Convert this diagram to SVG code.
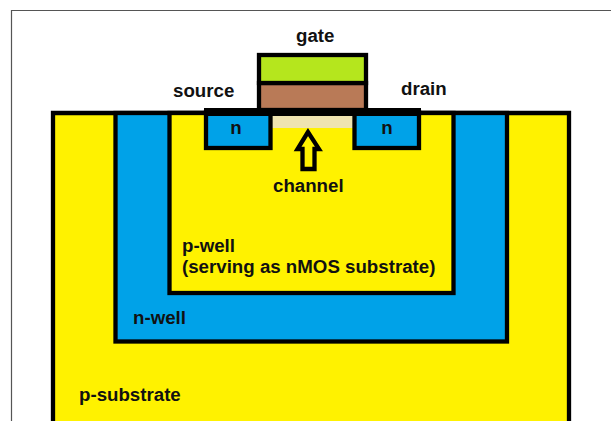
<svg xmlns="http://www.w3.org/2000/svg" width="611" height="421" viewBox="0 0 611 421">
<style>
.s{stroke:#000;stroke-width:4.3;stroke-linejoin:miter}
.y{fill:#fff200}.b{fill:#00a2e8}
text{font-family:"Liberation Sans",Arial,sans-serif;font-weight:700;font-size:18.7px;fill:#111}
</style>
<rect width="611" height="421" fill="#fff"/>
<path d="M611 10.500H11.500V421" fill="none" stroke="#555" stroke-width="1.200"/>
<g id="p-substrate"><path class="s y" d="M53 425V113H569V425"/><text x="79" y="401">p-substrate</text></g>
<g id="n-well"><rect class="s b" x="115.500" y="113" width="391.500" height="228.500"/><text x="133" y="324">n-well</text></g>
<g id="p-well"><rect class="s y" x="169.500" y="113" width="284" height="180"/><text x="182" y="252">p-well</text><text x="182" y="273">(serving as nMOS substrate)</text></g>
<g id="channel"><rect x="272" y="116" width="81" height="12" fill="#efe4b0"/><text x="273" y="192">channel</text></g>
<g id="source"><rect class="s b" x="206" y="112" width="64.500" height="36"/><text x="236" y="134" text-anchor="middle">n</text><text x="173" y="97">source</text></g>
<g id="drain"><rect class="s b" x="354.500" y="112" width="64.500" height="36"/><text x="387" y="134" text-anchor="middle">n</text><text x="401" y="95">drain</text></g>
<g id="gate"><rect class="s" x="259" y="83" width="107" height="27" fill="#b97a57"/><rect class="s" x="259" y="55" width="107" height="28" fill="#b5e61d"/><text x="296" y="42">gate</text></g>
<rect x="204" y="108" width="217" height="8"/>
<g id="connectors"><path d="M308 132L297.500 149H302.500V169H314.500V149H319Z" fill="#fff200" stroke="#000" stroke-width="4.300"/></g>
</svg>
